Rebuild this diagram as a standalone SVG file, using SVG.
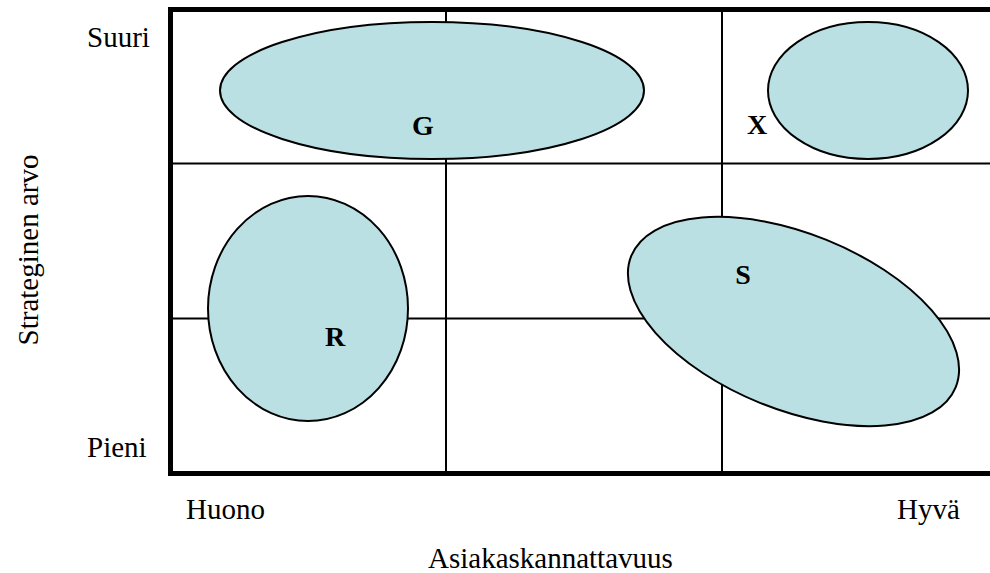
<svg xmlns="http://www.w3.org/2000/svg" width="990" height="573" viewBox="0 0 990 573">
  <style>
    .frame { stroke: #000; stroke-width: 5; fill: none; }
    .grid { stroke: #000; stroke-width: 2; fill: none; }
    .blob { fill: #BBE0E3; stroke: #000; stroke-width: 2; }
    .axis { font-family: "Liberation Serif", "Times New Roman", serif; font-size: 29px; fill: #000; }
    .tag { font-family: "Liberation Serif", "Times New Roman", serif; font-size: 28px; font-weight: bold; fill: #000; text-anchor: middle; }
  </style>
  <rect width="990" height="573" fill="#fff"/>

  <!-- grid of the portfolio matrix -->
  <g id="matrix">
    <line class="grid" x1="446" y1="10" x2="446" y2="471"/>
    <line class="grid" x1="722" y1="10" x2="722" y2="471"/>
    <line class="grid" x1="171" y1="163.5" x2="990" y2="163.5"/>
    <line class="grid" x1="171" y1="318.5" x2="990" y2="318.5"/>
    <line class="frame" x1="170.5" y1="7" x2="170.5" y2="476"/>
    <line class="frame" x1="168" y1="9.5" x2="990" y2="9.5"/>
    <line class="frame" x1="168" y1="473.5" x2="990" y2="473.5"/>
  </g>

  <!-- customer groups -->
  <g id="G">
    <ellipse class="blob" cx="432" cy="90.5" rx="212" ry="68.5"/>
    <text class="tag" x="423" y="135">G</text>
  </g>
  <g id="X">
    <ellipse class="blob" cx="868" cy="90.5" rx="100" ry="68.5"/>
    <text class="tag" x="757" y="134">X</text>
  </g>
  <g id="R">
    <ellipse class="blob" cx="308" cy="308.5" rx="100" ry="112.5"/>
    <text class="tag" x="335" y="346">R</text>
  </g>
  <g id="S">
    <ellipse class="blob" cx="793.5" cy="321.5" rx="175" ry="88" transform="rotate(22 793.5 321.5)"/>
    <text class="tag" x="743" y="284">S</text>
  </g>

  <!-- axis labels -->
  <g id="axes">
    <text class="axis" x="87" y="47">Suuri</text>
    <text class="axis" x="87" y="457">Pieni</text>
    <text class="axis" x="186" y="519">Huono</text>
    <text class="axis" x="897" y="519">Hyvä</text>
    <text class="axis" x="428" y="568">Asiakaskannattavuus</text>
    <text class="axis" transform="translate(38 250) rotate(-90)" text-anchor="middle" font-size="31">Strateginen arvo</text>
  </g>
</svg>
